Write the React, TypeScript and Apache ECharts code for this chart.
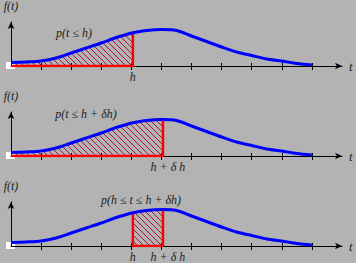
import React, { useEffect, useRef } from 'react';
import * as echarts from 'echarts';

// curve f(t): t in tick units, f in plot units
const tVals = [0, 0.5, 1, 1.5, 2, 2.5, 3, 3.5, 4, 4.05, 4.5, 5, 5.05, 5.5, 6, 6.5, 7, 7.5, 8, 8.5, 9, 9.5, 10];
const fVals = [3.5, 4, 5, 8, 13, 18, 23, 28.5, 33, 33.3, 35.5, 36.5, 36.5, 35.5, 30, 24.5, 19, 14, 10.5, 7, 5, 2.5, 1];
const H = 4.05;
const HD = 5.05;
const tickVals = [1, 2, 3, 4, 5, 6, 7, 8, 9, 10];
const probLabels = ['p(t ≤ h)', 'p(t ≤ h + δh)', 'p(h ≤ t ≤ h + δh)'];
const ranges: [number, number][] = [[0, H], [0, HD], [H, HD]];
const axisMarks: number[][] = [[H], [HD], [H, HD]];

const fAt = (t: number) => fVals[tVals.indexOf(t)];

export default function App() {
  const ref = useRef<HTMLDivElement>(null);
  useEffect(() => {
    document.body.style.margin = '0';
    const cv = document.createElement('canvas');
    cv.width = 6; cv.height = 6;
    const ctx = cv.getContext('2d')!;
    ctx.fillStyle = '#b0103c';
    for (let i = 0; i < 6; i++) ctx.fillRect(i, i, 1, 1);
    const url = cv.toDataURL();
    const pattern: any = { image: url, repeat: 'repeat', imageWidth: 6, imageHeight: 6 };

    const chart = echarts.init(ref.current!, null, { renderer: 'svg' });
    const tops = [22, 112, 202];
    const font = 'Liberation Serif';
    const grids: any[] = [];
    const xAxes: any[] = [];
    const yAxes: any[] = [];
    const series: any[] = [];
    const graphics: any[] = [];
    const textPos = [[74, 33], [86, 114], [141, 200]];
    tops.forEach((top, i) => {
      grids.push({ left: 11, top, width: 331, height: 44 });
      xAxes.push({
        type: 'value', gridIndex: i, min: 0, max: 11, position: 'bottom',
        axisLine: { lineStyle: { color: '#000', width: 1 }, symbol: ['none', 'arrow'], symbolSize: [5, 7] },
        axisTick: { show: true, length: 4, customValues: tickVals, lineStyle: { color: '#000' } },
        axisLabel: {
          show: true, customValues: axisMarks[i], margin: 5,
          formatter: (v: number) => (v === H ? '{a|h}' : '{b|h + δ h}'),
          rich: {
            a: { fontFamily: font, fontStyle: 'italic', fontSize: 12, color: '#222' },
            b: { fontFamily: font, fontStyle: 'italic', fontSize: 12, color: '#222', padding: [0, 0, 0, 10] },
          },
        },
        splitLine: { show: false },
        name: 't', nameLocation: 'end', nameGap: 7,
        nameTextStyle: { fontFamily: font, fontStyle: 'italic', fontSize: 13, color: '#222', verticalAlign: 'middle', padding: [0, 0, 6, 0] },
      });
      xAxes.push({
        type: 'value', gridIndex: i, min: 0, max: 11, position: 'bottom',
        axisLine: { show: false },
        axisTick: { show: true, inside: true, length: 3, customValues: tickVals, lineStyle: { color: '#000' } },
        axisLabel: { show: false }, splitLine: { show: false },
      });
      yAxes.push({
        type: 'value', gridIndex: i, min: 0, max: 44,
        axisLine: { show: true, lineStyle: { color: '#000', width: 1 }, symbol: ['none', 'arrow'], symbolSize: [5, 7] },
        axisTick: { show: false }, axisLabel: { show: false }, splitLine: { show: false },
        name: 'f(t)', nameLocation: 'end', nameGap: 10,
        nameTextStyle: { fontFamily: font, fontStyle: 'italic', fontSize: 12, color: '#222', align: 'center' },
      });
      const [a, b] = ranges[i];
      const hatch = tVals.map((t, k) => [t, fVals[k]]).filter(p => p[0] >= a && p[0] <= b);
      series.push({
        type: 'line', xAxisIndex: 2 * i, yAxisIndex: i, data: hatch, showSymbol: false, smooth: 0.3,
        lineStyle: { width: 0 }, areaStyle: { color: pattern, opacity: 1 }, z: 2,
      });
      const red = i === 2
        ? [[a, fAt(a)], [a, 0], [b, 0], [b, fAt(b)]]
        : [[a, 0], [b, 0], [b, fAt(b)]];
      series.push({
        type: 'line', xAxisIndex: 2 * i, yAxisIndex: i, data: red, showSymbol: false,
        lineStyle: { color: '#ff0000', width: 2.5 }, z: 3,
      });
      series.push({
        type: 'line', xAxisIndex: 2 * i, yAxisIndex: i, data: tVals.map((t, k) => [t, fVals[k]]),
        showSymbol: false, smooth: 0.3, lineStyle: { color: '#0000ff', width: 3 }, z: 4,
      });
      graphics.push({
        type: 'rect', shape: { x: 6, y: top + 40, width: 9, height: 7 }, style: { fill: '#ffffff' }, z: -1,
      });
      graphics.push({
        type: 'text', x: textPos[i][0], y: textPos[i][1],
        style: { text: probLabels[i], fontFamily: font, fontStyle: 'italic', fontSize: 12, fill: '#222', align: 'center', verticalAlign: 'middle' },
      });
    });
    chart.setOption({
      animation: false,
      backgroundColor: '#b3b3b3',
      grid: grids, xAxis: xAxes, yAxis: yAxes, series, graphic: graphics,
    });
    return () => chart.dispose();
  }, []);
  return <div ref={ref} style={{ width: 356, height: 263 }} />;
}
